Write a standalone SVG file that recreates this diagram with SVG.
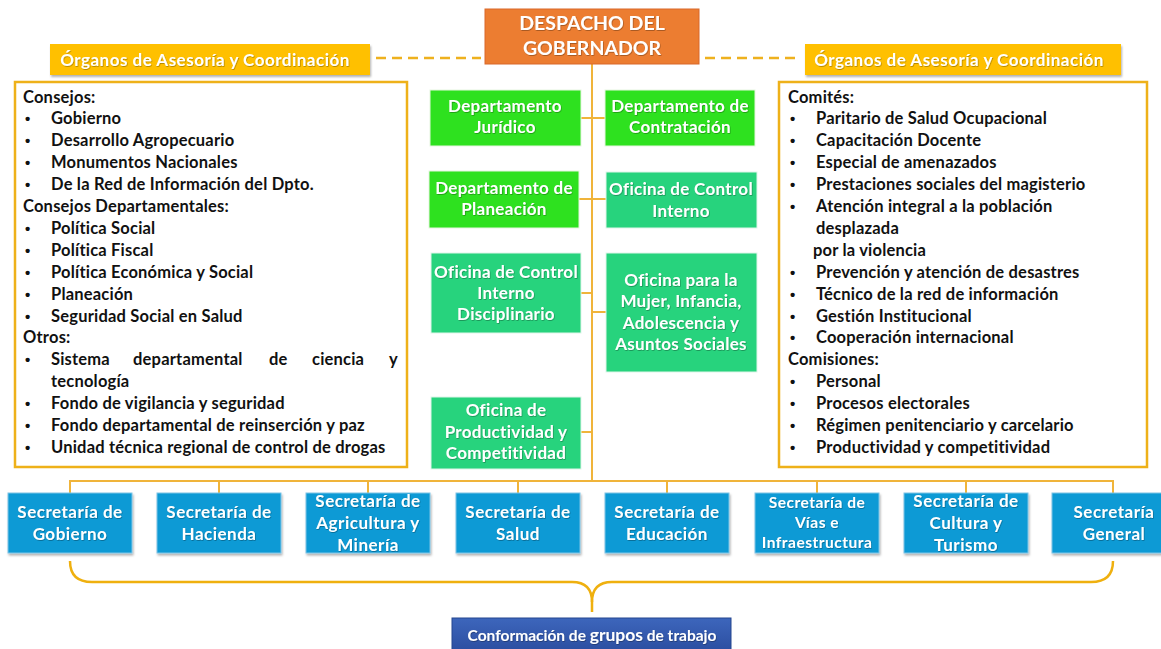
<svg xmlns="http://www.w3.org/2000/svg" width="1161" height="649" viewBox="0 0 1161 649">
  <defs>
    <linearGradient id="gBlueDark" x1="0" y1="0" x2="0" y2="1">
      <stop offset="0" stop-color="#3D66BC"/>
      <stop offset="1" stop-color="#2A4C9E"/>
    </linearGradient>
    <filter id="shadow" x="-10%" y="-10%" width="120%" height="140%">
      <feDropShadow dx="1" dy="2" stdDeviation="1.2" flood-color="#000" flood-opacity="0.3"/>
    </filter>
    <filter id="tshadow" x="-5%" y="-20%" width="110%" height="140%">
      <feDropShadow dx="0.6" dy="0.8" stdDeviation="0.4" flood-color="#000" flood-opacity="0.35"/>
    </filter>
  </defs>
  <style>
    text { font-family: Lato, "Liberation Sans", "DejaVu Sans", sans-serif; font-weight: bold; }
    .wt { fill: #FFFFFF; text-anchor: middle; }
    .bx { font-size: 17px; letter-spacing: 0.3px; }
    .sx { font-size: 17px; letter-spacing: 0.5px; }
    .box-title { fill: #EC7D31; stroke: #D9692A; stroke-width: 1; }
    .box-label { fill: #FFC000; }
    .box-dept { fill: #2EE11F; stroke: #E6F5E0; stroke-width: 1; }
    .box-office { fill: #27D37D; stroke: #E0F5EA; stroke-width: 1; }
    .box-sec { fill: #0D9AD5; stroke: #7FC4E6; stroke-width: 1; }
    .panel { fill: #FFFFFF; stroke: #EEB119; stroke-width: 2.5; }
    .link { fill: none; stroke: #F0B43A; stroke-width: 2; }
    .dash { fill: none; stroke: #EEB11E; stroke-width: 2.5; stroke-dasharray: 10 6; }
    .brace { fill: none; stroke: #EFB00F; stroke-width: 2.5; }
    .lst { fill: #111111; font-size: 16.5px; letter-spacing: 0.2px; }
    .bul { fill: #111111; font-family: "Liberation Sans", sans-serif; font-size: 15px; }
  </style>

  <rect width="1161" height="649" fill="#FFFFFF"/>

  <!-- connectors -->
  <g id="connectors">
    <line class="dash" x1="376" y1="58" x2="481" y2="58"/>
    <line class="dash" x1="705" y1="58" x2="800" y2="58"/>
    <!-- main spine -->
    <line class="link" x1="592" y1="64" x2="592" y2="482"/>
    <!-- side offices -->
    <line class="link" x1="581" y1="118" x2="605" y2="118"/>
    <line class="link" x1="579" y1="199" x2="606" y2="199"/>
    <line class="link" x1="581" y1="293" x2="592" y2="293"/>
    <line class="link" x1="592" y1="312" x2="606" y2="312"/>
    <line class="link" x1="581" y1="432" x2="592" y2="432"/>
    <!-- secretariat bar -->
    <line class="link" x1="70" y1="481" x2="1113" y2="481"/>
    <line class="link" x1="70" y1="480" x2="70" y2="493"/>
    <line class="link" x1="219" y1="480" x2="219" y2="493"/>
    <line class="link" x1="368" y1="480" x2="368" y2="493"/>
    <line class="link" x1="518" y1="480" x2="518" y2="493"/>
    <line class="link" x1="667" y1="480" x2="667" y2="493"/>
    <line class="link" x1="817" y1="480" x2="817" y2="493"/>
    <line class="link" x1="966" y1="480" x2="966" y2="493"/>
    <line class="link" x1="1113" y1="480" x2="1113" y2="493"/>
    <!-- grouping brace -->
    <path class="brace" d="M70,561 Q70,582 92,582 L572,582 Q592,582 592,602 L592,612"/>
    <path class="brace" d="M1113,561 Q1113,582 1091,582 L612,582 Q592,582 592,602"/>
  </g>

  <!-- top node -->
  <g id="despacho">
    <rect class="box-title" x="485" y="9" width="214" height="55"/>
    <text class="wt" x="592" y="30" font-size="19.5" filter="url(#tshadow)">DESPACHO DEL</text>
    <text class="wt" x="592" y="55" font-size="19.5" filter="url(#tshadow)">GOBERNADOR</text>
  </g>

  <!-- advisory labels -->
  <g id="organos-izq">
    <rect class="box-label" x="50" y="44" width="320" height="31" filter="url(#shadow)"/>
    <text class="wt" x="205" y="66" font-size="17" letter-spacing="0.5" filter="url(#tshadow)">Órganos de Asesoría y Coordinación</text>
  </g>
  <g id="organos-der">
    <rect class="box-label" x="805" y="44" width="316" height="31" filter="url(#shadow)"/>
    <text class="wt" x="959" y="66" font-size="17" letter-spacing="0.5" filter="url(#tshadow)">Órganos de Asesoría y Coordinación</text>
  </g>

  <!-- left panel: councils -->
  <g id="consejos">
    <rect class="panel" x="15" y="82" width="392" height="385"/>
    <text class="lst" x="23" y="103">Consejos:</text>
    <g>
      <text class="bul" x="25" y="124">•</text><text class="lst" x="51" y="124">Gobierno</text>
      <text class="bul" x="25" y="146">•</text><text class="lst" x="51" y="146">Desarrollo Agropecuario</text>
      <text class="bul" x="25" y="168">•</text><text class="lst" x="51" y="168">Monumentos Nacionales</text>
      <text class="bul" x="25" y="190">•</text><text class="lst" x="51" y="190">De la Red de Información del Dpto.</text>
    </g>
    <text class="lst" x="23" y="212">Consejos Departamentales:</text>
    <g>
      <text class="bul" x="25" y="234">•</text><text class="lst" x="51" y="234">Política Social</text>
      <text class="bul" x="25" y="256">•</text><text class="lst" x="51" y="256">Política Fiscal</text>
      <text class="bul" x="25" y="278">•</text><text class="lst" x="51" y="278">Política Económica y Social</text>
      <text class="bul" x="25" y="300">•</text><text class="lst" x="51" y="300">Planeación</text>
      <text class="bul" x="25" y="322">•</text><text class="lst" x="51" y="322">Seguridad Social en Salud</text>
    </g>
    <text class="lst" x="23" y="343">Otros:</text>
    <g>
      <text class="bul" x="25" y="365">•</text>
      <text class="lst" x="51" y="365">Sistema</text>
      <text class="lst" x="133" y="365">departamental</text>
      <text class="lst" x="269" y="365">de</text>
      <text class="lst" x="312" y="365">ciencia</text>
      <text class="lst" x="389" y="365">y</text>
      <text class="lst" x="51" y="387">tecnología</text>
      <text class="bul" x="25" y="409">•</text><text class="lst" x="51" y="409">Fondo de vigilancia y seguridad</text>
      <text class="bul" x="25" y="431">•</text><text class="lst" x="51" y="431">Fondo departamental de reinserción y paz</text>
      <text class="bul" x="25" y="453">•</text><text class="lst" x="51" y="453">Unidad técnica regional de control de drogas</text>
    </g>
  </g>

  <!-- right panel: committees -->
  <g id="comites">
    <rect class="panel" x="779" y="82" width="368" height="385"/>
    <text class="lst" x="788" y="103">Comités:</text>
    <g>
      <text class="bul" x="790" y="124">•</text><text class="lst" x="816" y="124">Paritario de Salud Ocupacional</text>
      <text class="bul" x="790" y="146">•</text><text class="lst" x="816" y="146">Capacitación Docente</text>
      <text class="bul" x="790" y="168">•</text><text class="lst" x="816" y="168">Especial de amenazados</text>
      <text class="bul" x="790" y="190">•</text><text class="lst" x="816" y="190">Prestaciones sociales del magisterio</text>
      <text class="bul" x="790" y="212">•</text><text class="lst" x="816" y="212">Atención integral a la población</text>
      <text class="lst" x="816" y="234">desplazada</text>
      <text class="lst" x="813" y="256">por la violencia</text>
      <text class="bul" x="790" y="278">•</text><text class="lst" x="816" y="278">Prevención y atención de desastres</text>
      <text class="bul" x="790" y="300">•</text><text class="lst" x="816" y="300">Técnico de la red de información</text>
      <text class="bul" x="790" y="322">•</text><text class="lst" x="816" y="322">Gestión Institucional</text>
      <text class="bul" x="790" y="343">•</text><text class="lst" x="816" y="343">Cooperación internacional</text>
    </g>
    <text class="lst" x="788" y="365">Comisiones:</text>
    <g>
      <text class="bul" x="790" y="387">•</text><text class="lst" x="816" y="387">Personal</text>
      <text class="bul" x="790" y="409">•</text><text class="lst" x="816" y="409">Procesos electorales</text>
      <text class="bul" x="790" y="431">•</text><text class="lst" x="816" y="431">Régimen penitenciario y carcelario</text>
      <text class="bul" x="790" y="453">•</text><text class="lst" x="816" y="453">Productividad y competitividad</text>
    </g>
  </g>

  <!-- staff offices -->
  <g id="dep-juridico">
    <rect class="box-dept" x="430" y="90" width="151" height="56"/>
    <text class="wt bx" x="505" y="112" filter="url(#tshadow)">Departamento</text>
    <text class="wt bx" x="505" y="133" filter="url(#tshadow)">Jurídico</text>
  </g>
  <g id="dep-contratacion">
    <rect class="box-dept" x="605" y="90" width="150" height="56"/>
    <text class="wt bx" x="680" y="112" filter="url(#tshadow)">Departamento de</text>
    <text class="wt bx" x="680" y="133" filter="url(#tshadow)">Contratación</text>
  </g>
  <g id="dep-planeacion">
    <rect class="box-dept" x="429" y="171" width="150" height="57"/>
    <text class="wt bx" x="504" y="194" filter="url(#tshadow)">Departamento de</text>
    <text class="wt bx" x="504" y="215" filter="url(#tshadow)">Planeación</text>
  </g>
  <g id="of-control-interno">
    <rect class="box-office" x="606" y="172" width="151" height="56"/>
    <text class="wt bx" x="681" y="195" filter="url(#tshadow)">Oficina de Control</text>
    <text class="wt bx" x="681" y="217" filter="url(#tshadow)">Interno</text>
  </g>
  <g id="of-control-disciplinario">
    <rect class="box-office" x="431" y="253" width="150" height="80"/>
    <text class="wt bx" x="506" y="278" filter="url(#tshadow)">Oficina de Control</text>
    <text class="wt bx" x="506" y="299" filter="url(#tshadow)">Interno</text>
    <text class="wt bx" x="506" y="320" filter="url(#tshadow)">Disciplinario</text>
  </g>
  <g id="of-mujer">
    <rect class="box-office" x="606" y="253" width="151" height="119"/>
    <text class="wt bx" x="681" y="286" filter="url(#tshadow)">Oficina para la</text>
    <text class="wt bx" x="681" y="307" filter="url(#tshadow)">Mujer, Infancia,</text>
    <text class="wt bx" x="681" y="329" filter="url(#tshadow)">Adolescencia y</text>
    <text class="wt bx" x="681" y="350" filter="url(#tshadow)">Asuntos Sociales</text>
  </g>
  <g id="of-productividad">
    <rect class="box-office" x="431" y="397" width="150" height="72"/>
    <text class="wt bx" x="506" y="416" filter="url(#tshadow)">Oficina de</text>
    <text class="wt bx" x="506" y="438" filter="url(#tshadow)">Productividad y</text>
    <text class="wt bx" x="506" y="459" filter="url(#tshadow)">Competitividad</text>
  </g>

  <!-- secretariats -->
  <g id="sec-gobierno">
    <rect class="box-sec" x="8" y="493" width="124" height="60" filter="url(#shadow)"/>
    <text class="wt sx" x="70" y="518" filter="url(#tshadow)">Secretaría de</text>
    <text class="wt sx" x="70" y="540" filter="url(#tshadow)">Gobierno</text>
  </g>
  <g id="sec-hacienda">
    <rect class="box-sec" x="157" y="493" width="124" height="60" filter="url(#shadow)"/>
    <text class="wt sx" x="219" y="518" filter="url(#tshadow)">Secretaría de</text>
    <text class="wt sx" x="219" y="540" filter="url(#tshadow)">Hacienda</text>
  </g>
  <g id="sec-agricultura">
    <rect class="box-sec" x="306" y="493" width="124" height="60" filter="url(#shadow)"/>
    <text class="wt sx" x="368" y="507" filter="url(#tshadow)">Secretaría de</text>
    <text class="wt sx" x="368" y="529" filter="url(#tshadow)">Agricultura y</text>
    <text class="wt sx" x="368" y="551" filter="url(#tshadow)">Minería</text>
  </g>
  <g id="sec-salud">
    <rect class="box-sec" x="456" y="493" width="124" height="60" filter="url(#shadow)"/>
    <text class="wt sx" x="518" y="518" filter="url(#tshadow)">Secretaría de</text>
    <text class="wt sx" x="518" y="540" filter="url(#tshadow)">Salud</text>
  </g>
  <g id="sec-educacion">
    <rect class="box-sec" x="605" y="493" width="124" height="60" filter="url(#shadow)"/>
    <text class="wt sx" x="667" y="518" filter="url(#tshadow)">Secretaría de</text>
    <text class="wt sx" x="667" y="540" filter="url(#tshadow)">Educación</text>
  </g>
  <g id="sec-vias">
    <rect class="box-sec" x="755" y="493" width="124" height="60" filter="url(#shadow)"/>
    <text class="wt" x="817" y="508" font-size="15.5" letter-spacing="0.5" filter="url(#tshadow)">Secretaría de</text>
    <text class="wt" x="817" y="528" font-size="15.5" letter-spacing="0.5" filter="url(#tshadow)">Vías e</text>
    <text class="wt" x="817" y="548" font-size="15.5" letter-spacing="0.5" filter="url(#tshadow)">Infraestructura</text>
  </g>
  <g id="sec-cultura">
    <rect class="box-sec" x="904" y="493" width="124" height="60" filter="url(#shadow)"/>
    <text class="wt sx" x="966" y="507" filter="url(#tshadow)">Secretaría de</text>
    <text class="wt sx" x="966" y="529" filter="url(#tshadow)">Cultura y</text>
    <text class="wt sx" x="966" y="551" filter="url(#tshadow)">Turismo</text>
  </g>
  <g id="sec-general">
    <rect class="box-sec" x="1052" y="493" width="124" height="60" filter="url(#shadow)"/>
    <text class="wt sx" x="1114" y="518" filter="url(#tshadow)">Secretaría</text>
    <text class="wt sx" x="1114" y="540" filter="url(#tshadow)">General</text>
  </g>

  <!-- working groups -->
  <g id="grupos-trabajo">
    <rect x="452" y="618" width="279" height="36" fill="url(#gBlueDark)" stroke="#25468F" stroke-width="1"/>
    <text class="wt" x="592" y="641" font-size="15.5" filter="url(#tshadow)">Conformación de <tspan font-size="17.5">grupos</tspan> de trabajo</text>
  </g>
</svg>
